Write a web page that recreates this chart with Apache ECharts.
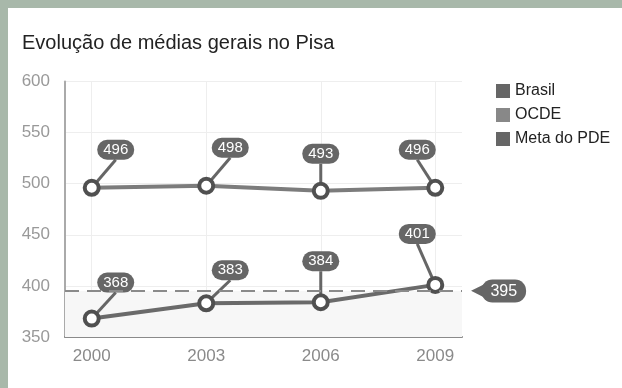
<!DOCTYPE html>
<html>
<head>
<meta charset="utf-8">
<script src="https://cdn.jsdelivr.net/npm/echarts@6/dist/echarts.min.js"></script>
<style>
  html, body { margin: 0; padding: 0; background: #ffffff; }
  #chart { position: absolute; left: 0; top: 0; width: 622px; height: 388px; }
  .frame { position: absolute; background: #a8b8aa; pointer-events: none; }
  #frameLeft { left: 0; top: 0; width: 8px; height: 388px; }
  #frameTop { left: 0; top: 0; width: 622px; height: 8px; }
</style>
</head>
<body>
<div id="chart"></div>
<div class="frame" id="frameLeft"></div>
<div class="frame" id="frameTop"></div>
<script>
// Pisa averages
const years = [2000, 2003, 2006, 2009];
const brasil = [368, 383, 384, 401];
const ocde = [496, 498, 493, 496];
const metaPDE = 395;
const yTicks = [350, 400, 450, 500, 550, 600];

const FONT = '"Liberation Sans", Arial, sans-serif';

function pairs(values) {
  return values.map((v, i) => [years[i], v]);
}

// Callout offsets (label centre relative to the point) for each year
function calloutOffset(seriesName, idx) {
  if (seriesName === 'OCDE') {
    return [[24, -38], [24, -38], [0, -37], [-18, -38]][idx];
  }
  return [[24, -36], [24, -33], [0, -41], [-18, -51]][idx];
}

const bubbleLabel = {
  show: true,
  position: 'inside',
  formatter: p => String(p.value[1]),
  color: '#ffffff',
  fontFamily: FONT,
  fontSize: 15,
  backgroundColor: '#666666',
  borderRadius: 10,
  padding: [3, 6, 2, 6]
};

function lineSeries(name, values, color) {
  return {
    name: name,
    type: 'line',
    data: pairs(values),
    color: color,
    symbol: 'circle',
    symbolSize: 14,
    lineStyle: { color: color, width: 4 },
    itemStyle: { color: '#ffffff', borderColor: '#505050', borderWidth: 4 },
    label: bubbleLabel,
    labelLine: { show: true, lineStyle: { color: '#666666', width: 3 } },
    labelLayout: p => {
      const o = calloutOffset(name, p.dataIndex);
      return { dx: o[0], dy: o[1] };
    },
    z: 3
  };
}

const chart = echarts.init(document.getElementById('chart'), null, { renderer: 'canvas' });

chart.setOption({
  backgroundColor: '#ffffff',
  animation: false,
  title: {
    text: 'Evolução de médias gerais no Pisa',
    left: 22,
    top: 33,
    padding: 0,
    textStyle: { fontFamily: FONT, fontSize: 20, fontWeight: 'normal', color: '#222222' }
  },
  legend: {
    orient: 'vertical',
    left: 496,
    top: 83,
    padding: 0,
    icon: 'rect',
    itemWidth: 14,
    itemHeight: 14,
    itemGap: 8,
    textStyle: { fontFamily: FONT, fontSize: 16, color: '#222222' },
    data: [
      { name: 'Brasil', itemStyle: { color: '#666666', borderWidth: 0 } },
      { name: 'OCDE', itemStyle: { color: '#888888', borderWidth: 0 } },
      { name: 'Meta do PDE', itemStyle: { color: '#666666', borderWidth: 0 } }
    ]
  },
  grid: { left: 65, right: 160, top: 81.5, bottom: 51 },
  xAxis: {
    type: 'value',
    min: 1999.3,
    max: 2009.7,
    axisLine: { show: true, lineStyle: { color: '#8a8a8a', width: 2 } },
    axisTick: { show: false, customValues: years },
    axisLabel: {
      customValues: years,
      formatter: v => String(v),
      margin: 11,
      color: '#8a8a8a',
      fontFamily: FONT,
      fontSize: 17
    },
    splitLine: { show: true, lineStyle: { color: '#eeeeee', width: 1 } }
  },
  yAxis: {
    type: 'value',
    min: yTicks[0],
    max: yTicks[yTicks.length - 1],
    interval: 50,
    axisLine: { show: true, lineStyle: { color: '#aaaaaa', width: 2 } },
    axisTick: { show: false },
    axisLabel: { margin: 15, color: '#999999', fontFamily: FONT, fontSize: 17 },
    splitLine: { show: true, lineStyle: { color: '#eeeeee', width: 1 } }
  },
  series: [
    lineSeries('Brasil', brasil, '#6a6a6a'),
    lineSeries('OCDE', ocde, '#7c7c7c'),
    {
      name: 'Meta do PDE',
      type: 'line',
      data: [],
      color: '#666666',
      lineStyle: { type: 'dashed' },
      markArea: {
        silent: true,
        itemStyle: { color: '#f7f7f7' },
        data: [[{ yAxis: yTicks[0] }, { yAxis: metaPDE }]]
      },
      markLine: {
        silent: true,
        symbol: ['none', 'none'],
        lineStyle: { color: '#8a8a8a', width: 2, type: [14, 8] },
        label: {
          show: true,
          position: 'end',
          distance: 9,
          formatter: p => '{t|◀}{b|' + p.value + '}',
          rich: {
            t: { color: '#666666', fontSize: 20, fontFamily: 'DejaVu Sans', padding: [0, -5, 0, 0] },
            b: {
              color: '#ffffff', fontFamily: FONT, fontSize: 16,
              backgroundColor: '#666666', borderRadius: 11, padding: [4, 9, 3, 9]
            }
          }
        },
        data: [{ yAxis: metaPDE }]
      },
      z: 1
    }
  ]
});
</script>
</body>
</html>
